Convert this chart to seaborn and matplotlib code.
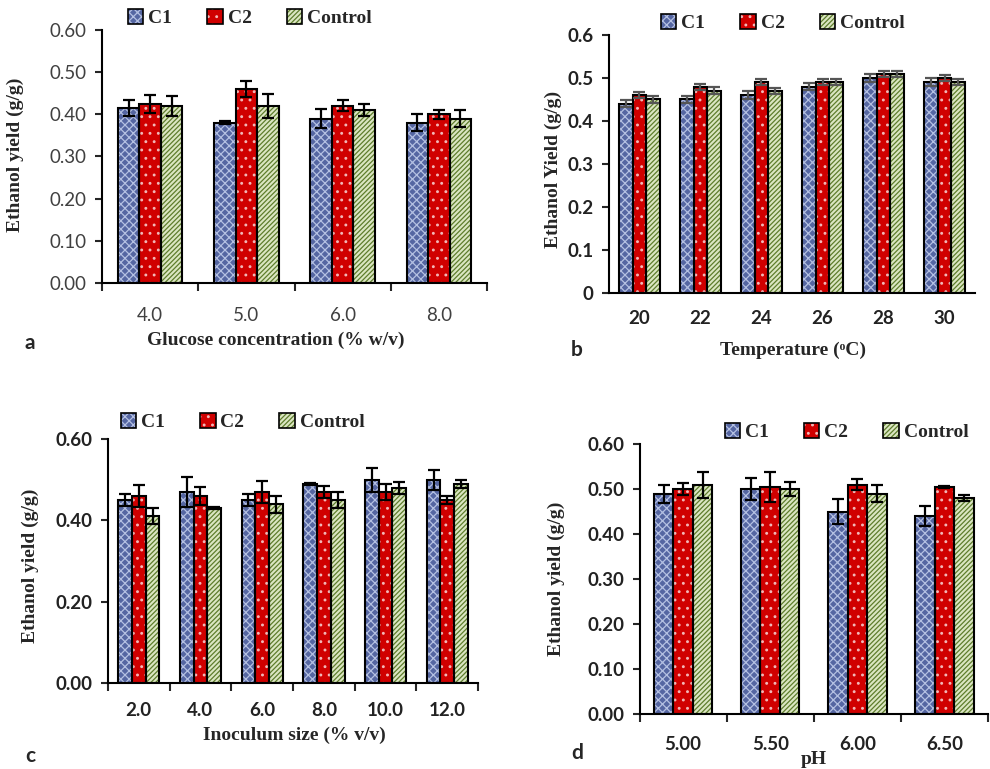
import numpy as np
import pandas as pd
import matplotlib
matplotlib.use("Agg")
import matplotlib.pyplot as plt
import seaborn as sns
from matplotlib.patches import Patch, Rectangle
from matplotlib.ticker import MultipleLocator, FormatStrFormatter

# Data
groups = ["C1", "C2", "Control"]

glucose = ["4.0", "5.0", "6.0", "8.0"]
glu_c1 = [0.415, 0.38, 0.39, 0.38]
glu_c2 = [0.425, 0.46, 0.42, 0.40]
glu_ctrl = [0.42, 0.42, 0.41, 0.39]
glu_c1_err = [0.02, 0.003, 0.022, 0.02]
glu_c2_err = [0.022, 0.02, 0.013, 0.01]
glu_ctrl_err = [0.023, 0.028, 0.015, 0.021]

temperature = ["20", "22", "24", "26", "28", "30"]
tmp_c1 = [0.44, 0.45, 0.46, 0.48, 0.50, 0.49]
tmp_c2 = [0.46, 0.48, 0.49, 0.49, 0.51, 0.50]
tmp_ctrl = [0.45, 0.47, 0.47, 0.49, 0.51, 0.49]
tmp_c1_err = [0.008, 0.009, 0.009, 0.009, 0.009, 0.009]
tmp_c2_err = [0.007, 0.007, 0.007, 0.007, 0.007, 0.007]
tmp_ctrl_err = [0.008, 0.008, 0.007, 0.007, 0.007, 0.007]

inoculum = ["2.0", "4.0", "6.0", "8.0", "10.0", "12.0"]
ino_c1 = [0.45, 0.47, 0.45, 0.49, 0.50, 0.50]
ino_c2 = [0.46, 0.46, 0.47, 0.47, 0.47, 0.45]
ino_ctrl = [0.41, 0.43, 0.44, 0.45, 0.48, 0.49]
ino_c1_err = [0.014, 0.036, 0.014, 0.002, 0.029, 0.025]
ino_c2_err = [0.028, 0.022, 0.028, 0.014, 0.02, 0.009]
ino_ctrl_err = [0.02, 0.003, 0.021, 0.02, 0.014, 0.01]

ph = ["5.00", "5.50", "6.00", "6.50"]
ph_c1 = [0.49, 0.50, 0.45, 0.44]
ph_c2 = [0.50, 0.505, 0.51, 0.505]
ph_ctrl = [0.51, 0.50, 0.49, 0.48]
ph_c1_err = [0.02, 0.025, 0.027, 0.023]
ph_c2_err = [0.014, 0.034, 0.013, 0.002]
ph_ctrl_err = [0.029, 0.016, 0.019, 0.006]

# Styles
face = ["#5566a2", "#d00000", "#dbe6c2"]
hatch_col = ["#b4c0e2", "#f2b8b8", "#5e7d2c"]
hatches = ["xxxx", "..", "///////"]

sns.set_style("ticks")
plt.rcParams["hatch.linewidth"] = 0.9
plt.rcParams["font.family"] = ["Lato", "DejaVu Sans"]

serif = ["Liberation Serif", "DejaVu Serif"]


def draw_panel(ax, cats, vals, errs, tick_fmt, step, tick_bold, ecolor, xticks_between, xpad):
    df = pd.DataFrame({
        "cat": np.tile(cats, 3),
        "grp": np.repeat(groups, len(cats)),
        "val": np.concatenate(vals),
    })
    sns.barplot(data=df, x="cat", y="val", hue="grp", hue_order=groups,
                palette=face, saturation=1, width=0.67, errorbar=None,
                legend=False, ax=ax)
    bar_sets = list(ax.containers)
    for i, cont in enumerate(bar_sets):
        xs = []
        for p in cont.patches:
            p.set_hatch(hatches[i])
            p.set_edgecolor(hatch_col[i])
            p.set_linewidth(0)
            ax.add_patch(Rectangle(p.get_xy(), p.get_width(), p.get_height(),
                                   fill=False, edgecolor="black", lw=1.5, zorder=3))
            xs.append(p.get_x() + p.get_width() / 2)
        ax.errorbar(xs, vals[i], yerr=errs[i], fmt="none", ecolor=ecolor,
                    elinewidth=1.6, capsize=4, capthick=1.6, zorder=4)

    ax.set_ylim(0, 0.6)
    ax.set_xlim(-0.5, len(cats) - 0.5)
    ax.yaxis.set_major_locator(MultipleLocator(step))
    ax.yaxis.set_major_formatter(FormatStrFormatter(tick_fmt) if tick_fmt else plt.FuncFormatter(lambda v, p: f"{v:g}"))
    sns.despine(ax=ax)
    for s in ["left", "bottom"]:
        ax.spines[s].set_linewidth(1.5)
        ax.spines[s].set_color("black")
    ax.tick_params(axis="y", length=5, width=1.5, direction="out", pad=6)
    ax.tick_params(axis="x", which="major", length=0, pad=xpad)
    if xticks_between:
        ax.set_xticks(np.arange(len(cats) + 1) - 0.5, minor=True)
        ax.tick_params(axis="x", which="minor", length=6, width=1.5)
    weight = "bold" if tick_bold else "normal"
    for lab in ax.get_xticklabels() + ax.get_yticklabels():
        lab.set_fontsize(13.5)
        lab.set_fontweight(weight)
        lab.set_color("#222222" if tick_bold else "#404040")

    handles = [(Patch(facecolor=face[i], edgecolor=hatch_col[i], hatch=hatches[i], lw=0),
                Patch(fill=False, edgecolor="black", lw=1.2)) for i in range(3)]
    return handles


fig = plt.figure(figsize=(9.9, 7.69), dpi=100)
ax_a = fig.add_axes([0.103, 0.632, 0.389, 0.329])
ax_b = fig.add_axes([0.615, 0.619, 0.370, 0.3355])
ax_c = fig.add_axes([0.109, 0.112, 0.374, 0.317])
ax_d = fig.add_axes([0.646, 0.0715, 0.352, 0.351])

panels = [
    (ax_a, glucose, [glu_c1, glu_c2, glu_ctrl], [glu_c1_err, glu_c2_err, glu_ctrl_err],
     "%.2f", 0.1, False, "black", True, 17,
     "Glucose concentration (% w/v)", (0.452, -0.194), "Ethanol yield (g/g)", (-0.202, 0.506), (0.384, 1.047)),
    (ax_b, temperature, [tmp_c1, tmp_c2, tmp_ctrl], [tmp_c1_err, tmp_c2_err, tmp_ctrl_err],
     None, 0.1, True, "#555555", False, 12,
     "Temperature (ᵒC)", (0.503, -0.19), "Ethanol Yield (g/g)", (-0.129, 0.477), (0.475, 1.047)),
    (ax_c, inoculum, [ino_c1, ino_c2, ino_ctrl], [ino_c1_err, ino_c2_err, ino_ctrl_err],
     "%.2f", 0.2, True, "black", True, 14,
     "Inoculum size (% v/v)", (0.503, -0.18), "Ethanol yield (g/g)", (-0.186, 0.48), (0.364, 1.07)),
    (ax_d, ph, [ph_c1, ph_c2, ph_ctrl], [ph_c1_err, ph_c2_err, ph_ctrl_err],
     "%.2f", 0.1, True, "black", True, 16,
     "pH", (0.5, -0.137), "Ethanol yield (g/g)", (-0.214, 0.50), (0.594, 1.044)),
]

for (ax, cats, vals, errs, fmt, step, bold, ecol, between, xpad,
     xlab, xlab_pos, ylab, ylab_pos, leg_pos) in panels:
    handles = draw_panel(ax, cats, vals, errs, fmt, step, bold, ecol, between, xpad)
    ax.set_xlabel(xlab, fontsize=14, fontweight="bold", family=serif)
    ax.xaxis.set_label_coords(*xlab_pos)
    ax.set_ylabel(ylab, fontsize=14, fontweight="bold", family=serif)
    ax.yaxis.set_label_coords(*ylab_pos)
    leg = ax.legend(handles, groups, loc="center", bbox_to_anchor=leg_pos, ncol=3,
                    frameon=False, handlelength=0.8, handleheight=0.8,
                    handletextpad=0.25, columnspacing=1.8,
                    prop={"family": serif, "weight": "bold", "size": 14})

for letter, x, y in [("a", 30, 343), ("b", 577, 350), ("c", 30, 756), ("d", 577, 753)]:
    fig.text(x / 990, 1 - y / 769, letter, fontsize=15, fontweight="bold",
             ha="center", va="center")

fig.savefig("out.png", dpi=100)
